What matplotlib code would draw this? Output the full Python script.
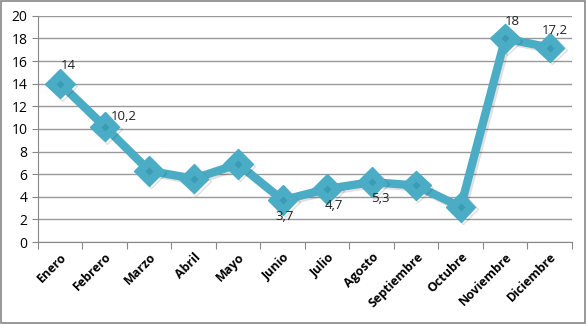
import matplotlib
matplotlib.use("Agg")
import matplotlib.pyplot as plt
from matplotlib.patches import Rectangle
import matplotlib.patheffects as pe

meses = ["Enero", "Febrero", "Marzo", "Abril", "Mayo", "Junio", "Julio",
         "Agosto", "Septiembre", "Octubre", "Noviembre", "Diciembre"]
valores = [14, 10.2, 6.3, 5.6, 6.9, 3.7, 4.7, 5.3, 5.0, 3.1, 18, 17.2]
# which points carry a data label, and where it sits
etiquetas = {0: "14", 1: "10,2", 5: "3,7", 6: "4,7", 7: "5,3", 10: "18", 11: "17,2"}
posicion = {0: (6, 13), 1: (14, 7), 5: (1.5, -12), 6: (5, -12), 7: (6, -12),
            10: (5, 12), 11: (4, 12)}

color = "#4BACC6"
plt.rcParams['font.family'] = ['Open Sans', 'DejaVu Sans']

fig = plt.figure(figsize=(5.87, 3.24), dpi=100)
ax = fig.add_axes([0.0647, 0.253, 0.9097, 0.698])

x = list(range(len(meses)))
ax.plot(x, valores, color=color, lw=6, marker="D", ms=15, mfc=color, mec=color,
        solid_joinstyle="round", zorder=3,
        path_effects=[pe.SimpleLineShadow(offset=(1.5, -1.5), alpha=0.12), pe.Normal()])
ax.plot(x, valores, ls="none", marker="D", ms=4, mfc="#3a9bb5", mec="none", zorder=4)

for i, t in etiquetas.items():
    ax.annotate(t, (x[i], valores[i]), xytext=posicion[i], textcoords="offset points",
                ha="center", va="center", fontsize=9.5, color="#222222", zorder=5)

ax.set_xlim(-0.5, len(meses) - 0.5)
ax.set_ylim(0, 20)
ax.set_yticks(range(0, 21, 2))
ax.set_xticks([i - 0.5 for i in range(len(meses) + 1)])
ax.set_xticklabels([])
ax.set_xticks(x, minor=True)
ax.set_xticklabels(meses, minor=True, rotation=45, ha="right", rotation_mode="anchor",
                   fontsize=9, fontweight="bold")
ax.tick_params(axis="x", which="minor", length=0, pad=6)
ax.tick_params(axis="x", which="major", length=5, color="#888888")
ax.tick_params(axis="y", length=4, color="#888888", labelsize=10)
ax.grid(axis="y", color="#999999", lw=1)
ax.set_axisbelow(True)
for s in ["top", "right"]:
    ax.spines[s].set_visible(False)
for s in ["left", "bottom"]:
    ax.spines[s].set_color("#888888")

fig.patches.append(Rectangle((0.002, 0.003), 0.995, 0.993, transform=fig.transFigure,
                             fill=False, edgecolor="#888888", lw=1.2))

fig.savefig("out.png", dpi=100)
